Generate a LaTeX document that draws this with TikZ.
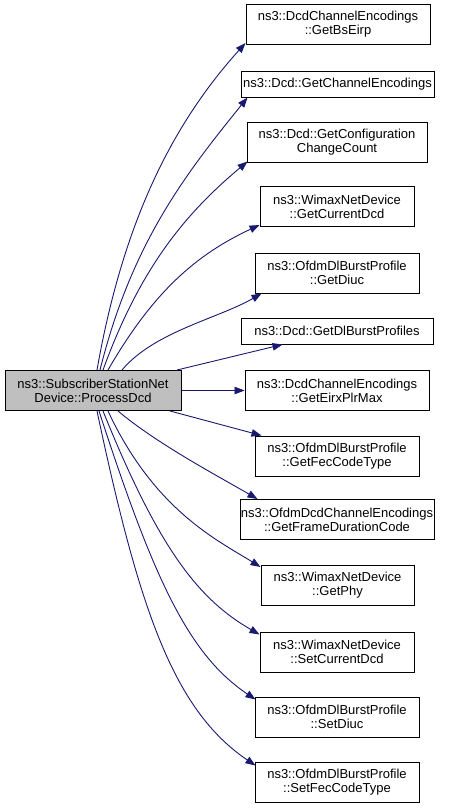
\documentclass[tikz,border=0pt]{standalone}
\usepackage{fontspec}
\setmainfont{Liberation Sans}
\usetikzlibrary{arrows.meta,calc}
\definecolor{edgeblue}{HTML}{191970}
\definecolor{mainfill}{HTML}{BFBFBF}
\begin{document}
\begin{tikzpicture}[x=1pt,y=1pt,
  box/.style={draw=black,line width=1pt,fill=white,inner sep=0pt,align=center,
    font=\fontsize{13}{14}\selectfont},
  two/.style={box,minimum height=40pt},
  one/.style={box,minimum height=26pt},
  edge/.style={draw=edgeblue,line width=0.9pt,-{Triangle[length=10pt,width=7.5pt]}}]
\useasboundingbox (0,0) rectangle (451,-808);
\fill[white] (0,0) rectangle (451,-808);
% main node
\node[two,fill=mainfill,minimum width=176pt] (main) at (93,-390.5) {ns3::SubscriberStationNet\\Device::ProcessDcd};
% targets
\node[two,minimum width=184pt] (t1) at (338,-24.5) {ns3::DcdChannelEncodings\\::GetBsEirp};
\node[one,minimum width=193pt] (t2) at (337.5,-84) {ns3::Dcd::GetChannelEncodings};
\node[two,minimum width=180pt] (t3) at (337,-142) {ns3::Dcd::GetConfiguration\\ChangeCount};
\node[two,minimum width=154pt] (t4) at (337,-206.5) {ns3::WimaxNetDevice\\::GetCurrentDcd};
\node[two,minimum width=164pt] (t5) at (337,-273) {ns3::OfdmDlBurstProfile\\::GetDiuc};
\node[one,minimum width=192pt] (t6) at (337,-331) {ns3::Dcd::GetDlBurstProfiles};
\node[two,minimum width=184pt] (t7) at (337,-390.5) {ns3::DcdChannelEncodings\\::GetEirxPlrMax};
\node[two,minimum width=164pt] (t8) at (337,-456) {ns3::OfdmDlBurstProfile\\::GetFecCodeType};
\node[two,minimum width=194pt] (t9) at (337,-519.5) {ns3::OfdmDcdChannelEncodings\\::GetFrameDurationCode};
\node[two,minimum width=153pt] (t10) at (337.5,-585.5) {ns3::WimaxNetDevice\\::GetPhy};
\node[two,minimum width=154pt] (t11) at (337,-652) {ns3::WimaxNetDevice\\::SetCurrentDcd};
\node[two,minimum width=164pt] (t12) at (337,-717) {ns3::OfdmDlBurstProfile\\::SetDiuc};
\node[two,minimum width=164pt] (t13) at (337,-782) {ns3::OfdmDlBurstProfile\\::SetFecCodeType};
% edges (top)
\draw[edge] ([xshift=4pt]main.north) .. controls +(80:150) and +(228:110) .. ([yshift=2pt]t1.south west);
\draw[edge] ([xshift=7pt]main.north) .. controls +(76:130) and +(231:100) .. ([xshift=7pt]t2.south west);
\draw[edge] ([xshift=10pt]main.north) .. controls +(70:110) and +(220:80) .. ([xshift=1pt,yshift=1pt]t3.south west);
\draw[edge] ([xshift=15pt]main.north) .. controls +(60:90) and +(205:70) .. ([yshift=2pt]t4.south west);
\draw[edge] ([xshift=29pt]main.north) .. controls +(50:50) and +(210:50) .. ([xshift=7pt]t5.south west);
\draw[edge] ([xshift=84pt]main.north) -- ([xshift=42pt]t6.south west);
% middle
\draw[edge] (main.east) -- (t7.west);
% bottom
\draw[edge] ([xshift=77pt]main.south) -- ([xshift=7pt]t8.north west);
\draw[edge] ([xshift=25pt]main.south) .. controls +(-40:50) and +(150:50) .. ([xshift=18pt]t9.north west);
\draw[edge] ([xshift=15pt]main.south) .. controls +(-65:110) and +(148:50) .. ([yshift=-2pt]t10.north west);
\draw[edge] ([xshift=10pt]main.south) .. controls +(-68:150) and +(150:70) .. ([yshift=-3pt]t11.north west);
\draw[edge] ([xshift=6pt]main.south) .. controls +(-72:180) and +(146:80) .. ([xshift=1pt,yshift=-3pt]t12.north west);
\draw[edge] ([xshift=4pt]main.south) .. controls +(-78:200) and +(146:100) .. ([xshift=1pt,yshift=-4pt]t13.north west);
\end{tikzpicture}
\end{document}
